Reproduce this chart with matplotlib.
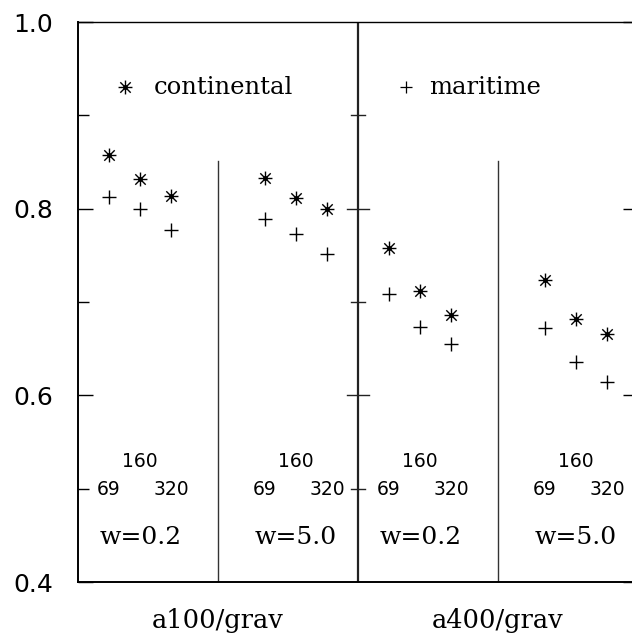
import matplotlib
matplotlib.use("Agg")
import matplotlib.pyplot as plt
from matplotlib.path import Path

# positions of the points (3 per block, 4 blocks)
x_pos = [1, 2, 3, 6, 7, 8, 10, 11, 12, 15, 16, 17]
continental = [0.858, 0.832, 0.814, 0.833, 0.811, 0.800,
               0.758, 0.712, 0.686, 0.724, 0.682, 0.666]
maritime = [0.813, 0.800, 0.777, 0.789, 0.773, 0.751,
            0.709, 0.673, 0.655, 0.672, 0.636, 0.614]
res_labels = ["69", "160", "320"]
w_labels = ["w=0.2", "w=5.0", "w=0.2", "w=5.0"]
w_centers = [2, 7, 11, 16]
group_labels = ["a100/grav", "a400/grav"]
group_centers = [4.5, 13.5]

# asterisk made of a plus and a cross
d = 0.75
star = Path([(-1, 0), (1, 0), (0, -1), (0, 1),
             (-d, -d), (d, d), (-d, d), (d, -d)],
            [Path.MOVETO, Path.LINETO] * 4)

fig = plt.figure(figsize=(6.32, 6.36), dpi=100)
ax = fig.add_axes([78 / 632, 54 / 636, 560 / 632, 560 / 636])

ax.plot(x_pos, continental, linestyle="none", marker=star, markersize=10,
        mew=1.0, color="black")
ax.plot(x_pos, continental, linestyle="none", marker="o", markersize=2.5,
        color="black")
ax.plot(x_pos, maritime, linestyle="none", marker="+", markersize=10,
        mew=1.0, color="black")

# separators
ax.axvline(9, color="#222222", lw=1.6)
for xs in [4.5, 13.5]:
    ax.plot([xs, xs], [0.4, 0.851], color="#333333", lw=1.0)

# cross ticks on the middle separator
for yv in [0.5, 0.6, 0.7, 0.8, 0.9]:
    ln = 0.35 if yv in (0.6, 0.8) else 0.22
    ax.plot([9 - ln, 9 + ln], [yv, yv], color="#222222", lw=1.0)

# labels inside the blocks
for c, wl in zip(w_centers, w_labels):
    ax.text(c, 0.5295, res_labels[1], ha="center", va="center",
            fontsize=13.5, family="DejaVu Sans")
    ax.text(c - 1, 0.4995, res_labels[0], ha="center", va="center",
            fontsize=13.5, family="DejaVu Sans")
    ax.text(c + 1, 0.4995, res_labels[2], ha="center", va="center",
            fontsize=13.5, family="DejaVu Sans")
    ax.text(c, 0.448, wl, ha="center", va="center", fontsize=18,
            family="DejaVu Serif")

for c, gl in zip(group_centers, group_labels):
    ax.text(c, 0.359, gl, ha="center", va="center", fontsize=18.5,
            family="DejaVu Serif", clip_on=False)

# legend
ax.plot([1.51], [0.930], linestyle="none", marker=star, markersize=10,
        mew=1.0, color="black")
ax.plot([1.51], [0.930], linestyle="none", marker="o", markersize=2.5,
        color="black")
ax.text(2.45, 0.930, "continental", ha="left", va="center", fontsize=17.5,
        family="DejaVu Serif")
ax.plot([10.54], [0.930], linestyle="none", marker="+", markersize=8,
        mew=0.9, color="black")
ax.text(11.3, 0.930, "maritime", ha="left", va="center", fontsize=17.5,
        family="DejaVu Serif")

ax.set_xlim(0, 18)
ax.set_ylim(0.4, 1.0)
ax.set_xticks([])
ax.set_yticks([0.4, 0.6, 0.8, 1.0])
ax.set_yticklabels(["0.4", "0.6", "0.8", "1.0"], fontsize=18,
                   family="DejaVu Sans")
ax.set_yticks([0.5, 0.7, 0.9], minor=True)
ax.tick_params(axis="y", which="major", direction="in", length=11, width=1,
               pad=18, right=True)
ax.tick_params(axis="y", which="minor", direction="in", length=8, width=1,
               right=False)
for side in ["left", "bottom"]:
    ax.spines[side].set_linewidth(1.4)
ax.spines["top"].set_linewidth(1.0)
ax.spines["right"].set_linewidth(1.0)

fig.savefig("out.png", dpi=100)
